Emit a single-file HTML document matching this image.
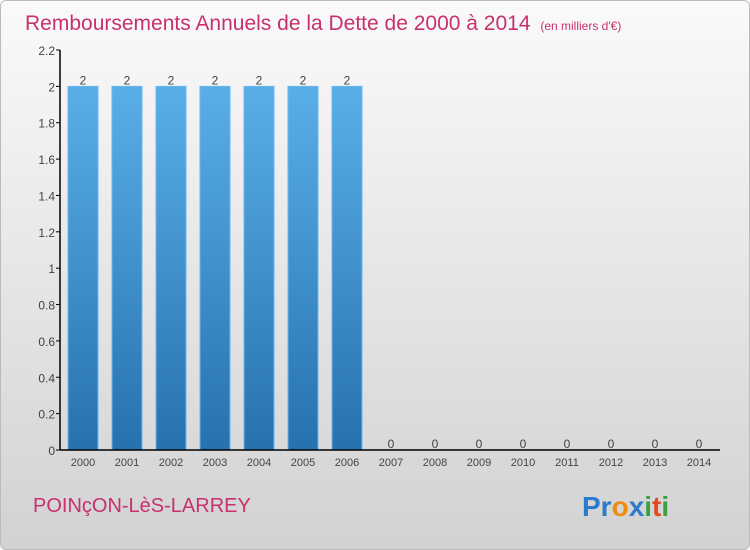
<!DOCTYPE html>
<html><head><meta charset="utf-8"><style>
body{margin:0;width:750px;height:550px;overflow:hidden;font-family:"Liberation Sans","DejaVu Sans",sans-serif}
#bg{position:absolute;left:0;top:0;width:748px;height:548px;border:1px solid #bbb;border-radius:6px;background:linear-gradient(#fafafa,#d2d2d2)}
</style></head><body>
<div id="bg"></div>
<svg id="c" width="750" height="550" style="position:absolute;left:0;top:0">
<defs><linearGradient id="bar" x1="0" y1="0" x2="0" y2="1"><stop offset="0" stop-color="#5aaee8"/><stop offset="1" stop-color="#2672ae"/></linearGradient></defs>
<text x="25" y="30" font-size="21" fill="#c8306e">Remboursements Annuels de la Dette de 2000 à 2014 <tspan font-size="12" dx="4">(en milliers d'€)</tspan></text>
<text x="33" y="512" font-size="20" fill="#c8306e">POINçON-LèS-LARREY</text>
<text x="582" y="516" font-size="28" font-weight="bold"><tspan fill="#2a7bc8">Pr</tspan><tspan fill="#f08a10">o</tspan><tspan fill="#2a7bc8">x</tspan><tspan fill="#3aa040">i</tspan><tspan fill="#e04a20">t</tspan><tspan fill="#3aa040">i</tspan></text>
<g id="plot"></g>
</svg>
<script>
const years=["2000","2001","2002","2003","2004","2005","2006","2007","2008","2009","2010","2011","2012","2013","2014"];
const values=[2,2,2,2,2,2,2,0,0,0,0,0,0,0,0];
const ticks=[0,0.2,0.4,0.6,0.8,1,1.2,1.4,1.6,1.8,2,2.2];
const tickLabels=["0","0.2","0.4","0.6","0.8","1","1.2","1.4","1.6","1.8","2","2.2"];
const NS="http://www.w3.org/2000/svg",g=document.getElementById('plot');
const y=v=>450-v/2.2*400, x=i=>83+i*44;
function mk(t,a){const e=document.createElementNS(NS,t);for(const k in a)e.setAttribute(k,a[k]);g.appendChild(e);return e;}
ticks.forEach((t,i)=>{
 const l=mk('line',{x1:56,x2:60,y1:y(t),y2:y(t),stroke:'#000'});
 
 
 const tx=mk('text',{x:55,y:y(t)+5,'text-anchor':'end','font-size':12,fill:'#444'});tx.textContent=tickLabels[i];
 
 
});
years.forEach((yr,i)=>{
 const v=values[i];
 if(v>0){const r=mk('rect',{x:x(i)-15,y:y(v),width:30,height:450-y(v),fill:'url(#bar)',stroke:'#6ab8ee','stroke-width':1});
 
 }
 const vl=mk('text',{x:x(i),y:y(v)-2,'text-anchor':'middle','font-size':12,fill:'#444'});vl.textContent=v;
 
 
 const xl=mk('text',{x:x(i),y:466,'text-anchor':'middle','font-size':11,fill:'#444'});xl.textContent=yr;
 
 
});
const ya=mk('line',{x1:60,x2:60,y1:y(2.2),y2:450,stroke:'#000','stroke-width':1.5});


const xa=mk('line',{x1:60,x2:720,y1:450,y2:450,stroke:'#000','stroke-width':1.5});


</script>
</body></html>
